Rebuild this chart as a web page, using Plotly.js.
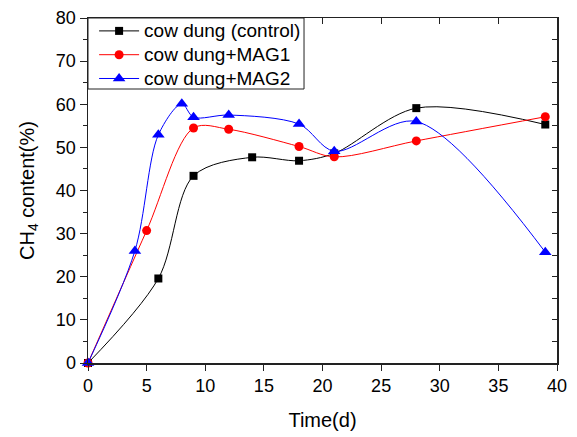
<!DOCTYPE html>
<html>
<head>
<meta charset="utf-8">
<script src="https://cdn.plot.ly/plotly-3.0.1.min.js"></script>
<style>html,body{margin:0;padding:0;background:#fff;}#chart{width:577px;height:437px;}</style>
</head>
<body>
<div id="chart"></div>
<script>
// Data
const seriesNames = ["cow dung (control)", "cow dung+MAG1", "cow dung+MAG2"];
const timeControl = [0, 6, 9, 14, 18, 21, 28, 39];
const ch4Control  = [0, 19.6, 43.4, 47.7, 46.9, 48.6, 59.1, 55.3];
const timeMag1    = [0, 5, 9, 12, 18, 21, 28, 39];
const ch4Mag1     = [0, 30.7, 54.5, 54.2, 50.2, 47.8, 51.5, 57.1];
const timeMag2    = [0, 4, 6, 8, 9, 12, 18, 21, 28, 39];
const ch4Mag2     = [0, 26.0, 52.9, 60.1, 57.0, 57.5, 55.4, 49.1, 56.0, 25.7];
const xTicks = [0, 5, 10, 15, 20, 25, 30, 35, 40];
const yTicks = [0, 10, 20, 30, 40, 50, 60, 70, 80];

const FONT = "Liberation Sans, Arial, sans-serif";
const AX = "#222";

function tr(x, y, name, color, symbol, size) {
  return {
    x: x, y: y, name: '<span style="font-size:19px">' + name + '</span>',
    type: "scatter", mode: "lines+markers",
    line: {color: color, width: 1, shape: "spline", smoothing: 0.9},
    marker: {color: color, symbol: symbol, size: size},
    cliponaxis: false
  };
}

const data = [
  tr(timeControl, ch4Control, seriesNames[0], "#000000", "square", 8),
  tr(timeMag1, ch4Mag1, seriesNames[1], "#ff0000", "circle", 9),
  tr(timeMag2, ch4Mag2, seriesNames[2], "#0000ff", "triangle-up", 11)
];

const layout = {
  width: 577, height: 437,
  margin: {l: 88, r: 20, t: 18, b: 74},
  paper_bgcolor: "#fff", plot_bgcolor: "#fff",
  font: {family: FONT, size: 18, color: "#000"},
  showlegend: true,
  legend: {
    x: 0.013, y: 1.0116, xanchor: "left", yanchor: "top",
    bgcolor: "rgba(0,0,0,0)", borderwidth: 0,
    font: {family: FONT, size: 16, color: "#000"},
    tracegroupgap: 0, itemwidth: 40
  },
  // legend frame (opaque box like the reference)
  shapes: [{
    type: "rect", xref: "paper", yref: "paper", layer: "above",
    x0: 0, x1: 0.4606, y0: 0.7942, y1: 1,
    fillcolor: "#fff", line: {color: "#222", width: 1}
  }],
  xaxis: {
    range: [0, 40], tickvals: xTicks, ticktext: xTicks.map(String),
    showgrid: false, zeroline: false,
    showline: true, linecolor: AX, linewidth: 1.5,
    ticks: "outside", ticklen: 6, tickcolor: AX,
    tickfont: {family: FONT, size: 18},
    title: {text: "Time(d)", font: {family: FONT, size: 20}, standoff: 18}
  },
  yaxis: {
    range: [0, 80], tickvals: yTicks, ticktext: yTicks.map(String),
    showgrid: false, zeroline: false,
    showline: true, linecolor: AX, linewidth: 1.5,
    ticks: "outside", ticklen: 7, tickcolor: AX,
    minor: {dtick: 5, tick0: 0, ticks: "outside", ticklen: 4, tickcolor: AX, showgrid: false},
    tickfont: {family: FONT, size: 18},
    title: {text: "CH<sub>4</sub> content(%)", font: {family: FONT, size: 20}, standoff: 16}
  },
  xaxis2: {
    overlaying: "x", side: "top", anchor: "y", range: [0, 40], tickvals: xTicks,
    showticklabels: false, showgrid: false, zeroline: false,
    showline: true, linecolor: AX, linewidth: 1.5,
    ticks: "inside", ticklen: 6, tickcolor: AX
  },
  yaxis2: {
    overlaying: "y", side: "right", anchor: "x", range: [0, 80], dtick: 5, tick0: 0,
    showticklabels: false, showgrid: false, zeroline: false,
    showline: true, linecolor: AX, linewidth: 1.5,
    ticks: "inside", ticklen: 5, tickcolor: AX
  }
};

// invisible trace to activate the mirrored top/right axes
data.unshift({x: [0], y: [0], xaxis: "x2", yaxis: "y2", mode: "markers",
  marker: {opacity: 0}, showlegend: false, hoverinfo: "skip"});

Plotly.newPlot("chart", data, layout, {staticPlot: true, displayModeBar: false});
</script>
</body>
</html>
